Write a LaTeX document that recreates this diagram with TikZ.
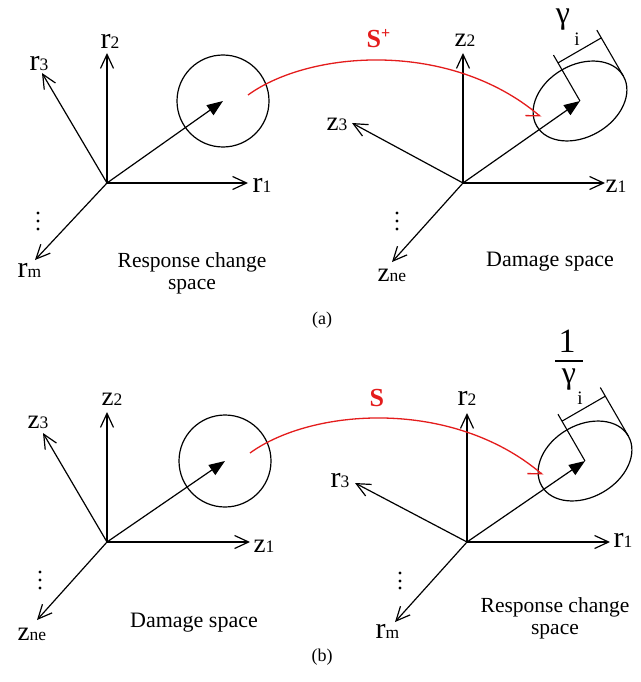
\documentclass[tikz,border=0pt]{standalone}
\usepackage{fontspec}
\setmainfont{Liberation Serif}
\usetikzlibrary{arrows.meta,shapes.geometric}
\definecolor{redc}{RGB}{228,28,28}
\newcommand\rlab[2]{{\fontsize{30}{30}\selectfont #1}{\fontsize{17.5}{17.5}\selectfont #2}}
\newcommand\zlab[2]{{\fontsize{27}{27}\selectfont #1}{\fontsize{17.5}{17.5}\selectfont #2}}
\begin{document}
\begin{tikzpicture}[x=1pt,y=-1pt, line width=1.2pt,
  axis/.style={-{Straight Barb[length=14pt,width=13pt]}},
  vec/.style={-{Triangle[length=16pt,width=12pt]}},
  map/.style={redc, line width=1.3pt, -{Straight Barb[harpoon,swap,length=11pt,width=18pt]}},
  lab/.style={anchor=base west, inner sep=0pt},
  txt/.style={font=\fontsize{21.5}{22}\selectfont, align=center, inner sep=0pt},
  captxt/.style={font=\fontsize{18}{18}\selectfont, inner sep=0pt},
  ring/.style={draw, circle, minimum size=92pt, inner sep=0pt},
  oval/.style={draw, ellipse, minimum width=100pt, minimum height=72pt, inner sep=0pt, rotate=30},
  dimln/.style={line width=1.1pt},
  dotfill/.style={fill=black},
  glab/.style={inner sep=0pt},
  slab/.style={anchor=base west, inner sep=0pt, text=redc, font=\fontsize{26}{26}\selectfont\bfseries}]
\useasboundingbox (0,0) rectangle (640,682);
\fill[white] (0,0) rectangle (640,682);

% ================= panel (a) left: response change space
\coordinate (O1) at (107,183);
\coordinate (a1r1) at (248,183);
\coordinate (a1r2) at (107,53);
\coordinate (a1r3) at (42,73);
\coordinate (a1rm) at (35,260);
\draw[axis] (O1) -- (a1r1);
\draw[axis] (O1) -- (a1r2);
\draw[axis] (O1) -- (a1r3);
\draw[axis] (O1) -- (a1rm);
\node[lab] (lr1a) at (252,192) {\rlab{r}{1}};
\node[lab] (lr2a) at (100,49) {\rlab{r}{2}};
\node[lab] (lr3a) at (29,71) {\rlab{r}{3}};
\node[lab] (lrma) at (17,277) {\rlab{r}{m}};
\fill[dotfill] (38,213) circle (1.6pt) (38,221) circle (1.6pt) (38,229) circle (1.6pt);
\node[ring] (C1) at (223,101) {};
\draw[vec] (O1) -- (C1.center);
\node[txt] (t1) at (192,273) {Response change\\space};

% ================= panel (a) right: damage space
\coordinate (O2) at (463,183);
\coordinate (a2z1) at (605,183);
\coordinate (a2z2) at (463,53);
\coordinate (a2z3) at (352,123);
\coordinate (a2zn) at (392,262);
\draw[axis] (O2) -- (a2z1);
\draw[axis] (O2) -- (a2z2);
\draw[axis] (O2) -- (a2z3);
\draw[axis] (O2) -- (a2zn);
\node[lab] (lz1a) at (605,192) {\zlab{z}{1}};
\node[lab] (lz2a) at (454,47) {\zlab{z}{2}};
\node[lab] (lz3a) at (326,131) {\zlab{z}{3}};
\node[lab] (lzna) at (377,281) {\zlab{z}{ne}};
\fill[dotfill] (397,213) circle (1.6pt) (397,221) circle (1.6pt) (397,229) circle (1.6pt);
\node[oval] (E1) at (580,101) {};
\draw[vec] (O2) -- (E1.center);
\begin{scope}[shift={(E1.center)}, rotate=30, dimln]
  \draw (0,0) -- (0,-53);
  \draw (50,0) -- (50,-53);
  \draw (0,-44) -- (50,-44);
\end{scope}
\node[glab, font=\fontsize{32}{32}\selectfont] (g1) at (563,20) {γ};
\node[glab, font=\fontsize{19}{19}\selectfont] (i1) at (577,39) {i};
\node[anchor=base, inner sep=0pt, font=\fontsize{22}{22}\selectfont] (t2) at (550,266) {Damage space};

% mapping S+
\coordinate (s1) at (248,95);
\coordinate (e1) at (541,117);
\draw[map] (s1) .. controls (310,50) and (450,40) .. (e1);
\node[slab] (S1) at (366,48) {S\raisebox{9pt}{\fontsize{16}{16}\selectfont +}};

\node[captxt] (capa) at (322,320) {(a)};

% ================= panel (b) left: damage space
\coordinate (O3) at (107,542);
\coordinate (b1z1) at (250,542);
\coordinate (b1z2) at (107,412);
\coordinate (b1z3) at (43,433);
\coordinate (b1zn) at (37,620);
\draw[axis] (O3) -- (b1z1);
\draw[axis] (O3) -- (b1z2);
\draw[axis] (O3) -- (b1z3);
\draw[axis] (O3) -- (b1zn);
\node[lab] (lz1b) at (253,552) {\zlab{z}{1}};
\node[lab] (lz2b) at (101,405) {\zlab{z}{2}};
\node[lab] (lz3b) at (27,428) {\zlab{z}{3}};
\node[lab] (lznb) at (17,640) {\zlab{z}{ne}};
\fill[dotfill] (40,572) circle (1.6pt) (40,580) circle (1.6pt) (40,588) circle (1.6pt);
\node[ring] (C2) at (225,461) {};
\draw[vec] (O3) -- (C2.center);
\node[anchor=base, inner sep=0pt, font=\fontsize{22}{22}\selectfont] (t3) at (194,627) {Damage space};

% ================= panel (b) right: response change space
\coordinate (O4) at (467,542);
\coordinate (b2r1) at (610,542);
\coordinate (b2r2) at (467,413);
\coordinate (b2r3) at (355,483);
\coordinate (b2rm) at (395,622);
\draw[axis] (O4) -- (b2r1);
\draw[axis] (O4) -- (b2r2);
\draw[axis] (O4) -- (b2r3);
\draw[axis] (O4) -- (b2rm);
\node[lab] (lr1b) at (613,547) {\rlab{r}{1}};
\node[lab] (lr2b) at (457,405) {\rlab{r}{2}};
\node[lab] (lr3b) at (330,487) {\rlab{r}{3}};
\node[lab] (lrmb) at (375,638) {\rlab{r}{m}};
\fill[dotfill] (400,573) circle (1.6pt) (400,581) circle (1.6pt) (400,588) circle (1.6pt);
\node[oval] (E2) at (585,461) {};
\draw[vec] (O4) -- (E2.center);
\begin{scope}[shift={(E2.center)}, rotate=30, dimln]
  \draw (0,0) -- (0,-54);
  \draw (50,0) -- (50,-56);
  \draw (0,-46) -- (50,-46);
\end{scope}
\node[glab, font=\fontsize{34}{34}\selectfont] (one2) at (567,341) {1};
\coordinate (fb1) at (555,361);
\coordinate (fb2) at (583,361);
\draw[line width=1.3pt] (fb1) -- (fb2);
\node[glab, font=\fontsize{32}{32}\selectfont] (g2) at (569,380) {γ};
\node[glab, font=\fontsize{19}{19}\selectfont] (i2) at (580,398) {i};
\node[txt] (t4) at (555,618) {Response change\\space};

% mapping S
\coordinate (s2) at (250,453);
\coordinate (e2) at (543,475);
\draw[map] (s2) .. controls (312,408) and (452,398) .. (e2);
\node[slab] (S2) at (369,406) {S};

\node[captxt] (capb) at (322,657) {(b)};
\end{tikzpicture}
\end{document}
